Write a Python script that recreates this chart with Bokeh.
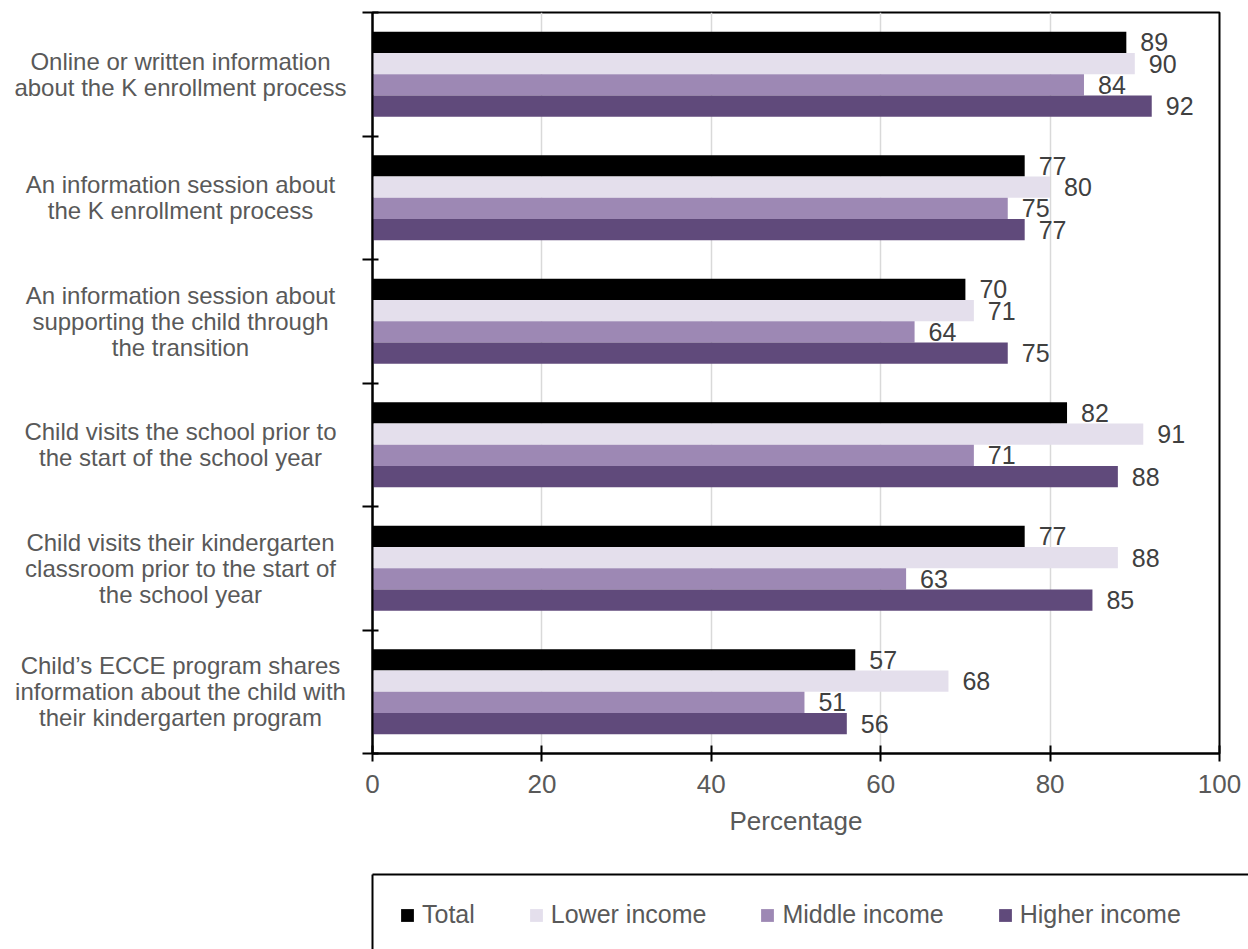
from bokeh.plotting import figure
from bokeh.layouts import row, column
from bokeh.models import (Range1d, FixedTicker, Legend, LegendItem,
                          ColumnDataSource)
from bokeh.core.properties import value
from bokeh.embed import file_html
from bokeh.resources import INLINE

# ---------------- data ----------------
categories = [
    ["Online or written information", "about the K enrollment process"],
    ["An information session about", "the K enrollment process"],
    ["An information session about", "supporting the child through", "the transition"],
    ["Child visits the school prior to", "the start of the school year"],
    ["Child visits their kindergarten", "classroom prior to the start of", "the school year"],
    ["Child\u2019s ECCE program shares", "information about the child with", "their kindergarten program"],
]
series_names = ["Total", "Lower income", "Middle income", "Higher income"]
total = [89, 77, 70, 82, 77, 57]
lower_income = [90, 80, 71, 91, 88, 68]
middle_income = [84, 75, 64, 71, 63, 51]
higher_income = [92, 77, 75, 88, 85, 56]
x_ticks = [0, 20, 40, 60, 80, 100]
x_title = "Percentage"

series_values = [total, lower_income, middle_income, higher_income]
colors = ["#000000", "#E4DFEC", "#9D88B4", "#604A7B"]

FONT = "Liberation Sans"
TXT = "#595959"
W, H = 1248, 949
LABEL_W = 352
FRAME_LEFT = 372
TOP = 12
MAIN_H = 860
BOTTOM = MAIN_H - 753
LEG_H = H - MAIN_H
LEG_TOP = 14

n_cat = len(categories)
y_range = Range1d(n_cat, 0)

# ---------------- category label column ----------------
lab_fig = figure(width=LABEL_W, height=MAIN_H, output_backend="svg", toolbar_location=None,
                 x_range=Range1d(0, LABEL_W), y_range=y_range,
                 x_axis_type=None, y_axis_type=None,
                 min_border_left=0, min_border_right=0,
                 min_border_top=TOP, min_border_bottom=BOTTOM,
                 border_fill_color="white", background_fill_color="white")
lab_fig.outline_line_color = None
lab_fig.grid.grid_line_color = None
line_gap = 26
ly, loff, ltxt = [], [], []
for i, lines in enumerate(categories):
    n = len(lines)
    for k, t in enumerate(lines):
        ly.append(i + 0.5)
        loff.append((k - (n - 1) / 2) * line_gap)
        ltxt.append(t)
lab_fig.text(x=180, y="y", y_offset="off", text="t",
             source=ColumnDataSource(dict(y=ly, off=loff, t=ltxt)),
             text_align="center", text_baseline="middle",
             text_font=value(FONT), text_font_size="24px", text_color=TXT)

# ---------------- main chart ----------------
p = figure(width=W - LABEL_W, height=MAIN_H, output_backend="svg", toolbar_location=None,
           x_range=Range1d(0, 100), y_range=y_range,
           min_border_left=FRAME_LEFT - LABEL_W, min_border_right=29,
           min_border_top=TOP, min_border_bottom=BOTTOM,
           background_fill_color="white", border_fill_color="white")
p.outline_line_color = "black"
p.outline_line_width = 2

p.xgrid.ticker = FixedTicker(ticks=x_ticks)
p.xgrid.grid_line_color = "#D9D9D9"
p.xgrid.grid_line_width = 1.5
p.ygrid.grid_line_color = None

xa = p.xaxis[0]
xa.ticker = FixedTicker(ticks=x_ticks)
xa.axis_line_color = "black"
xa.axis_line_width = 2
xa.major_tick_line_color = "black"
xa.major_tick_line_width = 2
xa.major_tick_in = 8
xa.major_tick_out = 8
xa.minor_tick_line_color = None
xa.major_label_text_font = FONT
xa.major_label_text_font_size = "26px"
xa.major_label_text_color = TXT
xa.major_label_standoff = 13
xa.axis_label = x_title
xa.axis_label_text_font = FONT
xa.axis_label_text_font_size = "26px"
xa.axis_label_text_font_style = "normal"
xa.axis_label_text_color = TXT
xa.axis_label_standoff = 10

# y axis: only (minor) ticks at the group boundaries, no labels
ya = p.yaxis[0]
ya.ticker = FixedTicker(ticks=[], minor_ticks=list(range(n_cat + 1)))
ya.axis_line_color = "black"
ya.axis_line_width = 2
ya.major_tick_line_color = None
ya.major_tick_out = 0
ya.major_tick_in = 0
ya.minor_tick_line_color = "black"
ya.minor_tick_line_width = 2
ya.minor_tick_in = 6
ya.minor_tick_out = 10

n_ser = len(series_names)
bar_h = 0.172
for s, (name, vals, col) in enumerate(zip(series_names, series_values, colors)):
    off = (s - (n_ser - 1) / 2) * bar_h
    ys = [i + 0.5 + off for i in range(n_cat)]
    src = ColumnDataSource(dict(y=ys, right=vals, lab=[str(v) for v in vals]))
    p.hbar(y="y", left=0, right="right", height=bar_h, source=src,
           fill_color=col, line_color=None)
    p.text(x="right", y="y", text="lab", source=src, x_offset=14,
           text_align="left", text_baseline="middle",
           text_font=value(FONT), text_font_size="25px", text_color="#404040")

# ---------------- legend strip (box open to the right/bottom) ----------------
leg_fig = figure(width=W, height=LEG_H, output_backend="svg", toolbar_location=None,
                 x_range=Range1d(0, 1), y_range=Range1d(0, 1),
                 x_axis_location="above",
                 min_border_left=FRAME_LEFT, min_border_right=0,
                 min_border_top=LEG_TOP, min_border_bottom=0,
                 border_fill_color="white", background_fill_color="white")
leg_fig.outline_line_color = None
leg_fig.grid.grid_line_color = None
for ax in (leg_fig.xaxis[0], leg_fig.yaxis[0]):
    ax.ticker = FixedTicker(ticks=[])
    ax.axis_line_color = "black"
    ax.axis_line_width = 2
    ax.major_tick_in = 0
    ax.major_tick_out = 0
    ax.minor_tick_in = 0
    ax.minor_tick_out = 0
    ax.major_tick_line_color = None
    ax.minor_tick_line_color = None
# legend proxies: one bar per series, outside the strip's visible range
leg_renderers = [leg_fig.hbar(y=[-5], right=[vals[0]], left=0, height=0.1,
                              fill_color=c, line_color=None)
                 for vals, c in zip(series_values, colors)]
legend = Legend(items=[LegendItem(label=n, renderers=[r])
                       for n, r in zip(series_names, leg_renderers)],
                orientation="horizontal", location=(27, 20),
                glyph_width=16, glyph_height=16, label_standoff=7, spacing=53,
                padding=0, margin=0,
                label_text_font=FONT, label_text_font_size="25px",
                label_text_color=TXT, border_line_color=None,
                background_fill_alpha=0)
leg_fig.add_layout(legend, "center")

layout = column(row(lab_fig, p, spacing=0), leg_fig, spacing=0)
open("out.html", "w").write(file_html(layout, INLINE))
